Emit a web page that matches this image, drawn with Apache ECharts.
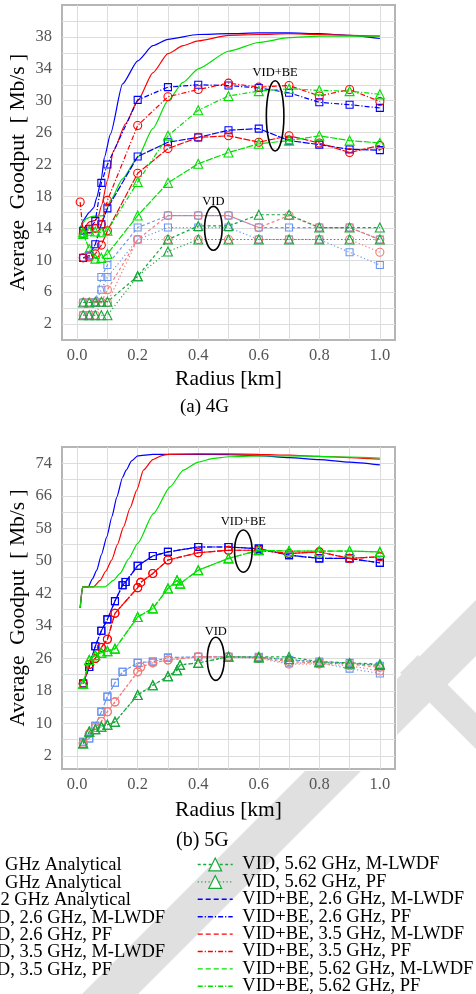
<!DOCTYPE html>
<html><head><meta charset="utf-8">
<script src="https://cdn.jsdelivr.net/npm/echarts@6/dist/echarts.min.js"></script>
<style>html,body{margin:0;padding:0;background:#fff;overflow:hidden}#c{width:476px;height:994px}</style>
</head><body><div id="c"></div><script>
// ---------- 4G data ----------
const radius4G = [0.02,0.04,0.06,0.08,0.1,0.2,0.3,0.4,0.5,0.6,0.7,0.8,0.9,1.0];
const radius4G_ext = [0.01,0.02,0.04,0.06,0.08,0.1,0.2,0.3,0.4,0.5,0.6,0.7,0.8,0.9,1.0];
const VIDBE_26_MLWDF_4G = [10.3,10.6,12.0,14.5,16.5,23.0,24.8,25.4,26.3,26.5,25.0,24.5,23.9,23.8];
const VIDBE_26_PF_4G    = [13.7,13.9,14.9,19.7,22.0,30.1,31.7,32.0,31.9,31.6,31.0,29.8,29.5,29.1];
const VIDBE_35_MLWDF_4G = [10.3,10.4,10.8,11.9,13.7,20.9,24.0,25.4,25.6,24.8,25.6,24.7,23.5,24.4];
const VIDBE_35_PF_4G    = [17.3,13.3,13.9,14.0,14.5,17.5,26.9,30.5,31.4,32.2,31.7,31.9,30.6,31.4,29.9];
const VIDBE_562_MLWDF_4G= [13.3,11.4,10.2,10.3,10.8,15.6,19.7,22.1,23.5,24.6,25.0,25.6,25.0,24.7];
const VIDBE_562_PF_4G   = [13.5,13.7,13.6,13.5,13.7,19.8,25.6,28.8,30.6,31.2,31.5,31.3,31.2,30.8];
const VID_26_MLWDF_4G   = [4.7,4.7,4.7,7.9,9.4,14.1,15.6,15.6,15.6,14.1,14.1,14.1,14.1,12.6];
const VID_26_PF_4G      = [3.1,3.1,4.7,6.3,7.9,12.6,14.1,14.1,14.1,12.6,12.6,12.6,11.0,9.4];
const VID_35_MLWDF_4G   = [4.7,4.7,4.7,4.7,6.3,12.6,15.6,15.6,15.6,14.1,15.6,14.1,14.1,12.6];
const VID_35_PF_4G      = [3.1,3.1,3.1,4.7,4.7,12.6,12.6,12.6,12.6,12.6,12.6,12.6,12.6,11.0];
const VID_562_MLWDF_4G  = [4.7,4.7,4.8,4.8,4.8,8.0,12.6,14.3,14.3,15.7,15.7,14.1,14.1,14.1];
const VID_562_PF_4G     = [3.1,3.1,3.1,3.1,3.1,8.0,11.1,12.6,12.6,12.6,12.6,12.6,12.6,12.6];
const AN_26_X_4G  = [0.01,0.02,0.04,0.055,0.065,0.08,0.09,0.11,0.15,0.2,0.25,0.3,0.4,0.5,0.6,0.7,0.8,0.9,1.0];
const AN_26_4G    = [13.8,15.0,16.0,16.6,17.9,20.2,22.9,25.8,32.1,35.0,36.9,37.7,38.3,38.4,38.5,38.5,38.4,38.2,37.8];
const AN_35_X_4G  = [0.01,0.02,0.04,0.06,0.07,0.08,0.1,0.12,0.16,0.2,0.25,0.3,0.35,0.4,0.5,0.6,0.7,0.8,0.9,1.0];
const AN_35_4G    = [13.2,13.9,14.8,15.0,15.5,16.8,20.0,23.7,27.1,30.0,33.5,35.9,36.9,37.5,38.2,38.3,38.4,38.3,38.2,38.1];
const AN_562_X_4G = [0.01,0.015,0.03,0.05,0.09,0.11,0.15,0.2,0.25,0.3,0.35,0.4,0.5,0.6,0.7,0.8,0.9,1.0];
const AN_562_4G   = [13.8,14.5,15.2,15.5,15.6,17.5,20.2,22.9,26.5,30.0,32.3,34.0,36.2,37.3,37.9,38.1,38.1,38.1];

// ---------- 5G data ----------
const VIDBE_26_X_5G  = [0.02,0.04,0.06,0.08,0.1,0.125,0.15,0.16,0.2,0.25,0.3,0.4,0.5,0.6,0.7,0.8,0.9,1.0];
const VIDBE_26_MLWDF_5G = [19.8,23.9,29.0,32.8,35.6,40.1,44.0,44.8,48.8,51.2,52.2,53.4,53.4,53.0,51.4,50.6,50.6,49.5];
const VIDBE_26_PF_5G    = [19.8,23.9,29.0,32.8,35.6,40.1,44.0,44.8,48.8,51.2,52.2,53.4,53.4,53.0,51.4,50.6,50.6,49.5];
const VIDBE_35_X_5G  = [0.02,0.04,0.06,0.08,0.1,0.125,0.2,0.21,0.25,0.3,0.4,0.5,0.6,0.7,0.8,0.9,1.0];
const VIDBE_35_MLWDF_5G = [19.8,24.5,26.0,28.7,30.7,37.1,43.4,44.7,46.9,50.2,52.0,52.6,52.6,51.8,52.2,50.6,51.0];
const VIDBE_35_PF_5G    = [19.8,24.5,26.0,28.7,30.7,37.1,43.4,44.7,46.9,50.2,52.0,52.6,52.6,51.8,52.2,50.6,51.0];
const VIDBE_562_X_5G = [0.02,0.04,0.06,0.08,0.1,0.125,0.2,0.25,0.3,0.33,0.34,0.4,0.5,0.6,0.7,0.8,0.9,1.0];
const VIDBE_562_MLWDF_5G= [19.8,25.6,26.8,27.4,27.8,28.4,36.2,38.3,43.2,45.2,44.4,47.7,50.6,52.6,52.4,52.4,52.4,52.2];
const VIDBE_562_PF_5G   = [19.8,25.6,26.8,27.4,27.8,28.4,36.2,38.3,43.2,45.2,44.4,47.7,50.6,52.6,52.4,52.4,52.4,52.2];
const VID_26_X_5G  = [0.02,0.04,0.06,0.08,0.1,0.125,0.15,0.2,0.25,0.3,0.4,0.5,0.6,0.7,0.8,0.9,1.0];
const VID_26_MLWDF_5G = [5.5,6.3,9.4,12.9,16.6,20.0,22.7,24.9,25.2,26.2,26.4,26.4,26.4,25.6,25.2,24.9,24.2];
const VID_26_PF_5G    = [5.5,6.3,9.4,12.9,16.6,20.0,22.7,24.9,25.2,26.2,26.4,26.4,26.2,24.8,24.9,23.5,22.3];
const VID_35_X_5G  = [0.02,0.04,0.06,0.08,0.1,0.125,0.2,0.21,0.25,0.3,0.4,0.5,0.6,0.7,0.8,0.9,1.0];
const VID_35_MLWDF_5G = [5.1,7.5,9.0,10.5,12.9,15.3,22.7,23.9,24.9,25.6,26.4,26.4,26.2,25.2,24.9,24.6,23.8];
const VID_35_PF_5G    = [5.1,7.5,9.0,10.5,12.9,15.3,22.7,23.9,24.9,25.6,26.4,26.4,26.0,24.6,24.6,24.2,22.9];
const VID_562_X_5G = [0.02,0.04,0.06,0.08,0.1,0.125,0.2,0.25,0.3,0.33,0.34,0.4,0.5,0.6,0.7,0.8,0.9,1.0];
const VID_562_MLWDF_5G = [5.1,8.0,8.6,9.2,9.7,10.4,17.0,19.4,21.6,23.1,24.4,24.9,26.4,26.4,26.4,25.2,24.9,24.6];
const VID_562_PF_5G    = [5.1,8.0,8.6,9.2,9.7,10.4,17.0,19.4,21.6,23.1,24.4,24.9,26.4,26.2,25.8,25.0,24.7,24.4];
const AN_26_X_5G  = [0.01,0.018,0.037,0.05,0.065,0.08,0.098,0.115,0.131,0.15,0.162,0.18,0.2,0.25,0.3,0.4,0.5,0.6,0.7,0.8,0.9,1.0];
const AN_26_5G    = [38.4,43.6,43.6,45.5,47.7,51.5,55.9,60.9,65.7,70.5,72.3,74.6,75.8,76.2,76.2,76.2,76.1,75.9,75.4,74.9,74.3,73.6];
const AN_35_X_5G  = [0.01,0.018,0.054,0.076,0.095,0.114,0.133,0.153,0.175,0.197,0.219,0.25,0.28,0.3,0.4,0.5,0.6,0.7,0.8,0.9,1.0];
const AN_35_5G    = [38.4,43.6,43.6,45.2,47.5,50.2,54.0,58.3,63.0,67.4,72.3,74.9,75.9,76.2,76.3,76.3,76.2,76.0,75.7,75.4,75.0];
const AN_562_X_5G = [0.01,0.018,0.092,0.12,0.142,0.17,0.2,0.252,0.307,0.351,0.4,0.45,0.5,0.6,0.7,0.8,0.9,1.0];
const AN_562_5G   = [38.4,43.6,43.6,45.2,46.9,50.5,54.3,61.6,68.2,72.3,74.3,75.2,75.6,75.8,75.8,75.7,75.5,75.3];

// ---------- axes / labels / annotations ----------
const X_MIN = -0.05, X_MAX = 1.05;
const Y4_MIN = 0, Y4_MAX = 42, Y5_MIN = -1.2, Y5_MAX = 78;
const xGridValues = [0,0.1,0.2,0.3,0.4,0.5,0.6,0.7,0.8,0.9,1.0];
const xLabelValues = [0,0.2,0.4,0.6,0.8,1.0];
const yGrid4G = [2,4,6,8,10,12,14,16,18,20,22,24,26,28,30,32,34,36,38,40];
const yLabels4G = [2,6,10,14,18,22,26,30,34,38];
const yGrid5G = [2,6,10,14,18,22,26,30,34,38,42,46,50,54,58,62,66,70,74];
const yLabels5G = [2,10,18,26,34,42,50,58,66,74];
const xTitle = 'Radius [km]';
const yTitle = 'Average  Goodput  [ Mb/s ]';
const annotText = ['VID+BE','VID'];
// [cx, cy, rx, ry, labelY]
const annot4G = [[0.654,28.1,0.029,4.4,33.5],[0.45,14.0,0.029,2.75,17.3]];
const annot5G = [[0.549,52.4,0.029,5.2,59.6],[0.458,25.9,0.028,5.3,32.5]];

const FONT = 'Liberation Serif';
const C = {blue:'#0000ff', red:'#ff0000', green:'#00e000', lblue:'#6b97f2', lred:'#f47a7a', dgreen:'#17a83a'};
const DASH=[7,1.5], DASHDOT=[5,2,1.2,2], VDASH=[3,2.5], DOT=[1.2,2.4];
const LDASH=[5,3];

const specs = {
 '2.6 GHz Analytical': {c:C.blue, d:'solid', s:'none'},
 '3.5 GHz Analytical': {c:C.red, d:'solid', s:'none'},
 '5.62 GHz Analytical': {c:C.green, d:'solid', s:'none'},
 'VID, 2.6 GHz, M-LWDF': {c:C.lblue, d:VDASH, s:'rect', z:7},
 'VID, 2.6 GHz, PF': {c:C.lblue, d:DOT, s:'rect', z:7},
 'VID, 3.5 GHz, M-LWDF': {c:C.lred, d:VDASH, s:'circle', z:8},
 'VID, 3.5 GHz, PF': {c:C.lred, d:DOT, s:'circle', z:8},
 'VID, 5.62 GHz, M-LWDF': {c:C.dgreen, d:VDASH, s:'triangle', z:9},
 'VID, 5.62 GHz, PF': {c:C.dgreen, d:DOT, s:'triangle', z:9},
 'VID+BE, 2.6 GHz, M-LWDF': {c:C.blue, d:DASH, s:'rect', z:7, ld:LDASH},
 'VID+BE, 2.6 GHz, PF': {c:C.blue, d:DASHDOT, s:'rect', z:7},
 'VID+BE, 3.5 GHz, M-LWDF': {c:C.red, d:DASH, s:'circle', z:8, ld:LDASH},
 'VID+BE, 3.5 GHz, PF': {c:C.red, d:DASHDOT, s:'circle', z:8},
 'VID+BE, 5.62 GHz, M-LWDF': {c:C.green, d:DASH, s:'triangle', z:9, ld:LDASH},
 'VID+BE, 5.62 GHz, PF': {c:C.green, d:DASHDOT, s:'triangle', z:9}
};
const symSize = {rect:7, circle:8, triangle:9, none:0};

function zip(xs, ys){ return xs.map((x,i)=>[x, ys[i]]); }
function mk(name, gi, xs, ys){
  const sp = specs[name];
  const analytic = sp.s === 'none';
  return {
    name, type:'line', xAxisIndex:gi, yAxisIndex:gi, data: zip(xs, ys),
    symbol: analytic ? 'none' : sp.s, symbolSize: symSize[sp.s], showSymbol: !analytic,
    smooth: analytic ? 0.2 : false, smoothMonotone: analytic ? 'x' : undefined,
    z: analytic ? 3 : (sp.z || 5),
    lineStyle: {color: sp.c, width: 1.2, type: sp.d},
    itemStyle: {color: 'rgba(255,255,255,0)', borderColor: sp.c, borderWidth: 1.1},
    color: sp.c, emphasis: {disabled: true}, silent: true, clip: true
  };
}

const series = [
 mk('2.6 GHz Analytical',0,AN_26_X_4G,AN_26_4G),
 mk('3.5 GHz Analytical',0,AN_35_X_4G,AN_35_4G),
 mk('5.62 GHz Analytical',0,AN_562_X_4G,AN_562_4G),
 mk('VID, 2.6 GHz, M-LWDF',0,radius4G,VID_26_MLWDF_4G),
 mk('VID, 2.6 GHz, PF',0,radius4G,VID_26_PF_4G),
 mk('VID, 3.5 GHz, M-LWDF',0,radius4G,VID_35_MLWDF_4G),
 mk('VID, 3.5 GHz, PF',0,radius4G,VID_35_PF_4G),
 mk('VID, 5.62 GHz, M-LWDF',0,radius4G,VID_562_MLWDF_4G),
 mk('VID, 5.62 GHz, PF',0,radius4G,VID_562_PF_4G),
 mk('VID+BE, 2.6 GHz, M-LWDF',0,radius4G,VIDBE_26_MLWDF_4G),
 mk('VID+BE, 2.6 GHz, PF',0,radius4G,VIDBE_26_PF_4G),
 mk('VID+BE, 3.5 GHz, M-LWDF',0,radius4G,VIDBE_35_MLWDF_4G),
 mk('VID+BE, 3.5 GHz, PF',0,radius4G_ext,VIDBE_35_PF_4G),
 mk('VID+BE, 5.62 GHz, M-LWDF',0,radius4G,VIDBE_562_MLWDF_4G),
 mk('VID+BE, 5.62 GHz, PF',0,radius4G,VIDBE_562_PF_4G),

 mk('2.6 GHz Analytical',1,AN_26_X_5G,AN_26_5G),
 mk('3.5 GHz Analytical',1,AN_35_X_5G,AN_35_5G),
 mk('5.62 GHz Analytical',1,AN_562_X_5G,AN_562_5G),
 mk('VID, 2.6 GHz, M-LWDF',1,VID_26_X_5G,VID_26_MLWDF_5G),
 mk('VID, 2.6 GHz, PF',1,VID_26_X_5G,VID_26_PF_5G),
 mk('VID, 3.5 GHz, M-LWDF',1,VID_35_X_5G,VID_35_MLWDF_5G),
 mk('VID, 3.5 GHz, PF',1,VID_35_X_5G,VID_35_PF_5G),
 mk('VID, 5.62 GHz, M-LWDF',1,VID_562_X_5G,VID_562_MLWDF_5G),
 mk('VID, 5.62 GHz, PF',1,VID_562_X_5G,VID_562_PF_5G),
 mk('VID+BE, 2.6 GHz, M-LWDF',1,VIDBE_26_X_5G,VIDBE_26_MLWDF_5G),
 mk('VID+BE, 2.6 GHz, PF',1,VIDBE_26_X_5G,VIDBE_26_PF_5G),
 mk('VID+BE, 3.5 GHz, M-LWDF',1,VIDBE_35_X_5G,VIDBE_35_MLWDF_5G),
 mk('VID+BE, 3.5 GHz, PF',1,VIDBE_35_X_5G,VIDBE_35_PF_5G),
 mk('VID+BE, 5.62 GHz, M-LWDF',1,VIDBE_562_X_5G,VIDBE_562_MLWDF_5G),
 mk('VID+BE, 5.62 GHz, PF',1,VIDBE_562_X_5G,VIDBE_562_PF_5G)
];

function annotRender(params, api){
  const c = api.coord([api.value(0), api.value(1)]);
  const s = api.size([api.value(2), api.value(3)]);
  const t = api.coord([api.value(0), api.value(4)]);
  return {type:'group', children:[
    {type:'ellipse', shape:{cx:c[0], cy:c[1], rx:s[0], ry:s[1]}, style:{fill:'none', stroke:'#000', lineWidth:1.6}},
    {type:'text', x:t[0], y:t[1], style:{text: annotText[params.dataIndex], fill:'#000', fontSize:12.5, fontFamily:FONT, align:'center', verticalAlign:'middle'}}
  ]};
}
series.push({type:'custom', xAxisIndex:0, yAxisIndex:0, data:annot4G, renderItem:annotRender, z:20, silent:true, clip:false});
series.push({type:'custom', xAxisIndex:1, yAxisIndex:1, data:annot5G, renderItem:annotRender, z:20, silent:true, clip:false});

// tick labels and axis titles placed through the axes' own scales
function labelSeries(gi, yMin, yMax, yLabs){
  const xData = xLabelValues.map(v => [v, yMin, 0]);
  const yData = yLabs.map(v => [X_MIN, v, 1]);
  const tData = [[0.5, yMin, 2], [X_MIN, (yMin + yMax) / 2, 3]];
  return {type:'custom', xAxisIndex:gi, yAxisIndex:gi, data: xData.concat(yData, tData), z:20, silent:true, clip:false,
    renderItem(params, api){
      const kind = api.value(2);
      const p = api.coord([api.value(0), api.value(1)]);
      if (kind === 0) return {type:'text', x:p[0], y:p[1] + 16, style:{text:api.value(0).toFixed(1), fill:'#555', fontSize:16.5, fontFamily:FONT, align:'center', verticalAlign:'middle'}};
      if (kind === 1) return {type:'text', x:p[0] - 10, y:p[1], style:{text:String(api.value(1)), fill:'#555', fontSize:16.5, fontFamily:FONT, align:'right', verticalAlign:'middle'}};
      if (kind === 2) return {type:'text', x:p[0], y:p[1] + (gi === 0 ? 39 : 41), style:{text:xTitle, fill:'#000', fontSize:21.5, fontFamily:FONT, align:'center', verticalAlign:'middle'}};
      return {type:'text', x:p[0] - 44, y:p[1], rotation:Math.PI/2, style:{text:yTitle, fill:'#000', fontSize:21.5, fontFamily:FONT, align:'center', verticalAlign:'middle'}};
    }};
}
series.push(labelSeries(0, Y4_MIN, Y4_MAX, yLabels4G));
series.push(labelSeries(1, Y5_MIN, Y5_MAX, yLabels5G));

function xAxis(gi){
  return {gridIndex:gi, type:'value', min:X_MIN, max:X_MAX,
    axisLine:{show:false}, axisTick:{show:false, customValues:xGridValues},
    splitLine:{show:true, lineStyle:{color:'#dcdcdc', width:1}},
    axisLabel:{show:false, customValues:xLabelValues}};
}
function yAxis(gi, min, max, grid, labs){
  return {gridIndex:gi, type:'value', min, max,
    axisLine:{show:false}, axisTick:{show:false, customValues:grid},
    splitLine:{show:true, lineStyle:{color:'#dcdcdc', width:1}},
    axisLabel:{show:false, customValues:labs}};
}

const legendNames = Object.keys(specs);
function legendItem(n){
  const sp = specs[n];
  const isVid = n.indexOf('VID,') === 0;
  return {name:n, lineStyle:{color:sp.c, width:1.4, type:sp.ld || sp.d, opacity:1},
    itemStyle: isVid ? {color:'#fff', borderColor:sp.c, borderWidth:1.2, opacity:1} : {opacity:0}};
}
const legendCommon = {orient:'vertical', itemWidth:35, itemHeight:16, itemGap:-1.6, padding:0, height:220, selectedMode:false,
  formatter: n => ' ' + n,
  textStyle:{color:'#000', fontFamily:FONT, fontSize:18.5}};

// light grey diagonal watermark bands, visible only outside the plot areas
const bandColor = '#e0e0e0';
const option = {
  animation:false, backgroundColor:'#fff',
  textStyle:{fontFamily:FONT},
  grid:[
    {left:62, right:81, top:5, height:335, show:true, borderColor:'#b5b5b5', borderWidth:2, backgroundColor:'#fff'},
    {left:62, right:81, top:447, height:322, show:true, borderColor:'#b5b5b5', borderWidth:2, backgroundColor:'#fff'}
  ],
  xAxis:[xAxis(0), xAxis(1)],
  yAxis:[yAxis(0,Y4_MIN,Y4_MAX,yGrid4G,yLabels4G), yAxis(1,Y5_MIN,Y5_MAX,yGrid5G,yLabels5G)],
  legend:[
    Object.assign({left:-68, top:856, data:legendNames.slice(0,7).map(legendItem)}, legendCommon),
    Object.assign({left:197, top:855, data:legendNames.slice(7).map(legendItem)}, legendCommon)
  ],
  graphic:[
    {type:'polygon', z:-10, silent:true, shape:{points:[[397,679],[500,576],[500,632],[397,735]]}, style:{fill:bandColor}},
    {type:'polygon', z:-10, silent:true, shape:{points:[[305,771],[361,771],[92,1040],[36,1040]]}, style:{fill:bandColor}},
    {type:'polygon', z:-10, silent:true, shape:{points:[[418,655],[400,673],[490,763],[508,745]]}, style:{fill:bandColor}},
    {type:'text', left:180, top:398, style:{text:'(a) 4G', fontSize:19, fontFamily:FONT, fill:'#000'}},
    {type:'text', left:176, top:831, style:{text:'(b) 5G', fontSize:20, fontFamily:FONT, fill:'#000'}}
  ],
  series
};
const chart = echarts.init(document.getElementById('c'), null, {renderer:'canvas'});
chart.setOption(option);
</script></body></html>
